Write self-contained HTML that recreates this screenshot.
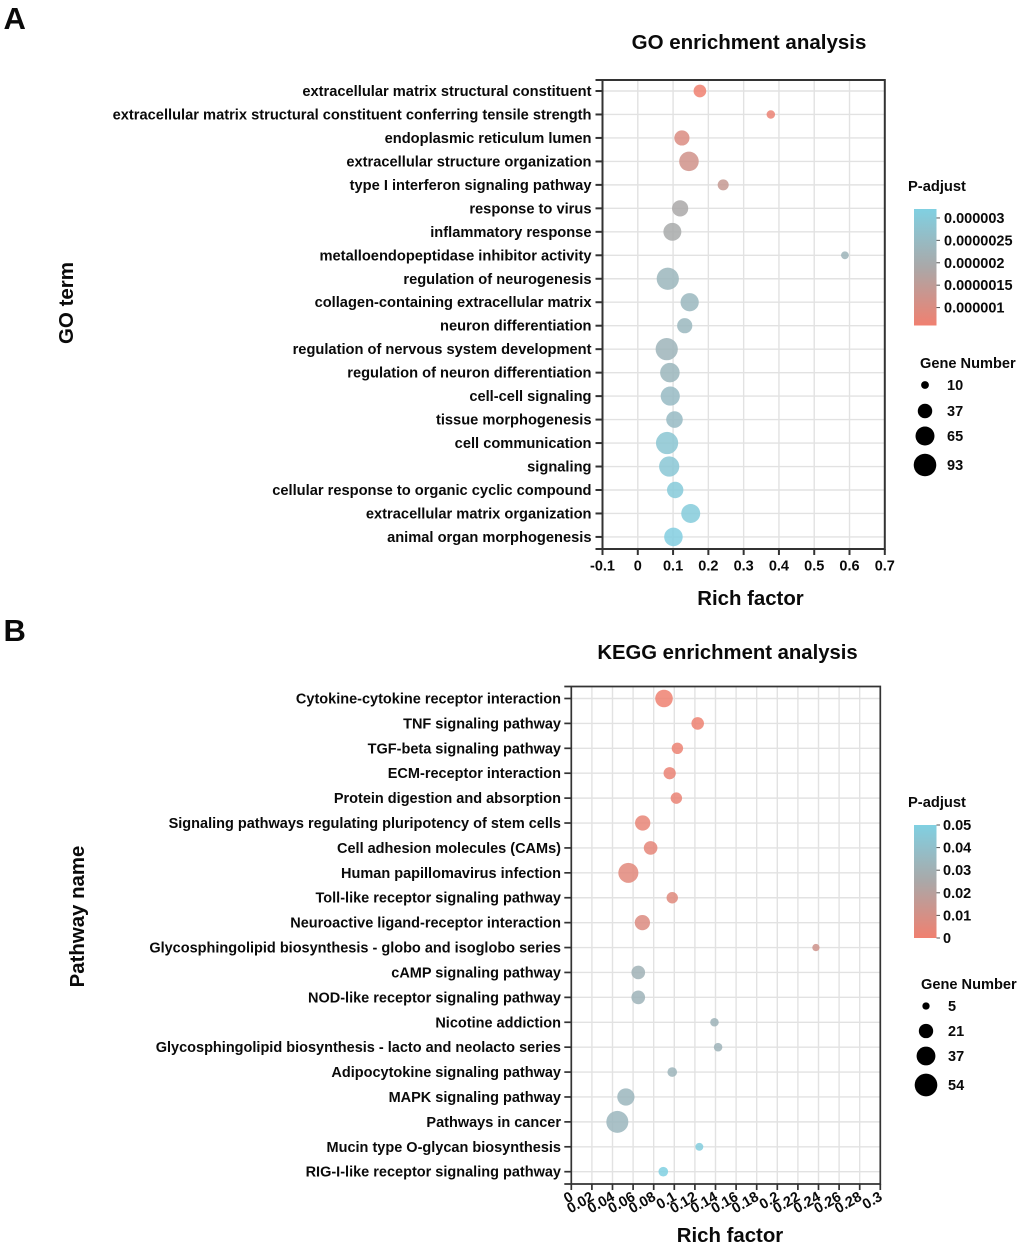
<!DOCTYPE html>
<html lang="en">
<head>
<meta charset="utf-8">
<title>GO and KEGG enrichment analysis</title>
<style>
html,body{margin:0;padding:0;background:#fff;width:1020px;height:1247px;overflow:hidden}
svg{display:block}
text{font-family:"Liberation Sans",Arial,sans-serif;font-weight:bold;fill:#0a0a0a}
</style>
</head>
<body>
<svg id="figure" xmlns="http://www.w3.org/2000/svg" width="1020" height="1247" viewBox="0 0 1020 1247">
  <defs>
    <linearGradient id="barGrad" x1="0" y1="1" x2="0" y2="0">
      <stop offset="0" stop-color="#f08070"/>
      <stop offset="0.5" stop-color="#aaa8a8"/>
      <stop offset="1" stop-color="#80d0e2"/>
    </linearGradient>
  </defs>
  <text x="3.5" y="29" font-size="31">A</text>
  <text x="3.5" y="641" font-size="31">B</text>
  <text x="749" y="49" font-size="20.5" text-anchor="middle">GO enrichment analysis</text>
  <text x="727.5" y="659" font-size="20.3" text-anchor="middle">KEGG enrichment analysis</text>
  <text x="750.5" y="605" font-size="20.4" text-anchor="middle">Rich factor</text>
  <text x="730" y="1242" font-size="20.4" text-anchor="middle">Rich factor</text>
  <text font-size="20.5" text-anchor="middle" transform="translate(73 303) rotate(-90)">GO term</text>
  <text font-size="20.4" text-anchor="middle" transform="translate(84 916.5) rotate(-90)">Pathway name</text>
  <text x="908" y="191" font-size="14.7">P-adjust</text>
  <text x="908" y="807" font-size="14.7">P-adjust</text>
  <text x="920" y="368" font-size="14.6">Gene Number</text>
  <text x="921" y="989" font-size="14.6">Gene Number</text>
  <g id="chartA"></g>
  <g id="chartB"></g>
</svg>
<script>
// ---- GO chart data ----
const goTerms = ["extracellular matrix structural constituent","extracellular matrix structural constituent conferring tensile strength","endoplasmic reticulum lumen","extracellular structure organization","type I interferon signaling pathway","response to virus","inflammatory response","metalloendopeptidase inhibitor activity","regulation of neurogenesis","collagen-containing extracellular matrix","neuron differentiation","regulation of nervous system development","regulation of neuron differentiation","cell-cell signaling","tissue morphogenesis","cell communication","signaling","cellular response to organic cyclic compound","extracellular matrix organization","animal organ morphogenesis"];
const goRich = [0.176,0.377,0.125,0.145,0.242,0.12,0.098,0.587,0.085,0.147,0.133,0.082,0.091,0.092,0.104,0.083,0.089,0.106,0.15,0.101];
const goGenes = [28,12,41,69,21,47,58,10,90,60,41,90,69,66,49,90,74,48,65,62];
const goPadj = [0.0000006,0.0000007,0.000001,0.0000012,0.0000014,0.0000019,0.00000195,0.0000023,0.00000235,0.0000024,0.0000024,0.0000023,0.00000235,0.0000025,0.0000025,0.00000285,0.0000029,0.000003,0.00000305,0.00000315];
const goXTicks = [-0.1,0,0.1,0.2,0.3,0.4,0.5,0.6,0.7];
const goColorTicks = [0.000003,0.0000025,0.000002,0.0000015,0.000001];
const goColorTickLabels = ["0.000003","0.0000025","0.000002","0.0000015","0.000001"];
const goSizeLegend = [10,37,65,93];

// ---- KEGG chart data ----
const keggTerms = ["Cytokine-cytokine receptor interaction","TNF signaling pathway","TGF-beta signaling pathway","ECM-receptor interaction","Protein digestion and absorption","Signaling pathways regulating pluripotency of stem cells","Cell adhesion molecules (CAMs)","Human papillomavirus infection","Toll-like receptor signaling pathway","Neuroactive ligand-receptor interaction","Glycosphingolipid biosynthesis - globo and isoglobo series","cAMP signaling pathway","NOD-like receptor signaling pathway","Nicotine addiction","Glycosphingolipid biosynthesis - lacto and neolacto series","Adipocytokine signaling pathway","MAPK signaling pathway","Pathways in cancer","Mucin type O-glycan biosynthesis","RIG-I-like receptor signaling pathway"];
const keggRich = [0.09,0.1227,0.103,0.0955,0.102,0.0693,0.077,0.0554,0.098,0.069,0.2375,0.065,0.065,0.139,0.1425,0.098,0.053,0.0447,0.1243,0.0893];
const keggGenes = [32,16,13,15,13,24,19,42,13,24,5,19,19,7,7,9,31,51,6,9];
const keggPadj = [0.0005,0.001,0.0015,0.002,0.002,0.003,0.004,0.005,0.006,0.007,0.012,0.031,0.032,0.032,0.032,0.033,0.034,0.034,0.048,0.05];
const keggXTicks = [0,0.02,0.04,0.06,0.08,0.1,0.12,0.14,0.16,0.18,0.2,0.22,0.24,0.26,0.28,0.3];
const keggColorTicks = [0.05,0.04,0.03,0.02,0.01,0];
const keggSizeLegend = [5,21,37,54];

const NS = "http://www.w3.org/2000/svg";
const GRID = "#e2e2e2", AXIS = "#333";
const LOW = [240,128,112], MID = [170,168,168], HIGH = [128,208,226];

function make(tag, attrs, parent, txt){
  const el = document.createElementNS(NS, tag);
  for (const k in attrs) el.setAttribute(k, attrs[k]);
  if (txt !== undefined) el.textContent = txt;
  parent.appendChild(el);
  return el;
}
function colorAt(t){
  t = Math.max(0, Math.min(1, t));
  const a = t < 0.5 ? LOW : MID, b = t < 0.5 ? MID : HIGH, f = t < 0.5 ? t * 2 : (t - 0.5) * 2;
  return "rgb(" + a.map((v, i) => Math.round(v + (b[i] - v) * f)).join(",") + ")";
}

function drawChart(root, o){
  const xScale = v => o.x0 + (v - o.xMin) / (o.xMax - o.xMin) * (o.right - o.x0);
  const yScale = i => o.yFirst + i * o.yStep;
  const colorT = p => (p - o.cMin) / (o.cMax - o.cMin);
  const colorY = p => o.barBottom - (p - o.cMin) / (o.cMax - o.cMin) * (o.barBottom - o.barTop);
  const radius = n => o.rk * Math.sqrt(n) + 0.3;

  // vertical gridlines
  o.xTicks.forEach(t => {
    const l = make("line", {x1:xScale(t), x2:xScale(t), y1:o.top, y2:o.bottom, stroke:GRID, "stroke-width":1.4}, root);
    
    
  });
  // horizontal gridlines, ticks and term labels
  o.terms.forEach((term, i) => {
    const y = yScale(i);
    const g = make("line", {x1:o.x0, x2:o.right, y1:y, y2:y, stroke:GRID, "stroke-width":1.4}, root);
    
    
    const t = make("line", {x1:o.x0 - 7, x2:o.x0, y1:y, y2:y, stroke:AXIS, "stroke-width":o.axisWidth}, root);
    
    
    const lb = make("text", {x:o.x0 - o.labelGap, y:y + 5, "font-size":o.labelSize, "text-anchor":"end"}, root, term);
    
    
  });
  // frame
  const frame = make("path", {d:"M"+(o.x0-7)+" "+o.top+"H"+o.right+"V"+o.bottom+"H"+(o.x0-7)+"M"+o.x0+" "+o.top+"V"+o.bottom, fill:"none", stroke:AXIS, "stroke-width":o.axisWidth}, root);
  
  
  // x ticks
  o.xTicks.forEach(t => {
    const x = xScale(t);
    const tk = make("line", {x1:x, x2:x, y1:o.bottom, y2:o.bottom + 6, stroke:AXIS, "stroke-width":o.axisWidth}, root);
    
    
    const attrs = o.rotate
      ? {"font-size":o.tickSize, "text-anchor":"end", transform:"translate("+(x+3)+" "+(o.bottom+15.5)+") rotate(-30)"}
      : {x:x, y:o.bottom + 21.5, "font-size":o.tickSize, "text-anchor":"middle"};
    const lb = make("text", attrs, root, String(t));
    
    
  });
  // bubbles
  o.terms.forEach((term, i) => {
    const c = make("circle", {cx:xScale(o.rich[i]), cy:yScale(i), r:radius(o.genes[i]), fill:colorAt(colorT(o.padj[i])), "fill-opacity":0.85}, root);
    
    
    make("title", {}, c, term);
  });
  // colour legend
  const bar = make("rect", {x:914, y:o.barTop, width:22.5, height:o.barBottom - o.barTop, fill:"url(#barGrad)"}, root);
  
  
  o.colorTicks.forEach((p, i) => {
    const y = colorY(p);
    const tk = make("line", {x1:936.5, x2:940, y1:y, y2:y, stroke:"#555", "stroke-width":1}, root);
    
    
    const lb = make("text", {x:o.colorLabelX, y:y + 5, "font-size":o.colorLabelSize}, root, o.colorLabels ? o.colorLabels[i] : String(p));
    
    
  });
  // size legend
  o.sizeLegend.forEach((n, i) => {
    const y = o.sizeY[i];
    const c = make("circle", {cx:o.sizeX, cy:y, r:radius(n), fill:"#000"}, root);
    
    
    const lb = make("text", {x:o.sizeX + 22, y:y + 5, "font-size":14.5}, root, String(n));
    
    
  });
}

drawChart(document.getElementById("chartA"), {
  terms:goTerms, rich:goRich, genes:goGenes, padj:goPadj, xTicks:goXTicks,
  colorTicks:goColorTicks, colorLabels:goColorTickLabels, sizeLegend:goSizeLegend,
  x0:602.5, right:884.8, top:80, bottom:549, xMin:-0.1, xMax:0.7,
  yFirst:91, yStep:23.47, rk:1.14, labelSize:14.67, labelGap:11, tickSize:14.5, rotate:false, axisWidth:2,
  cMin:0.0000006, cMax:0.0000032, barTop:209, barBottom:325.5,
  colorLabelX:944, colorLabelSize:14.5, sizeX:925, sizeY:[385,411,436,465]
});
drawChart(document.getElementById("chartB"), {
  terms:keggTerms, rich:keggRich, genes:keggGenes, padj:keggPadj, xTicks:keggXTicks,
  colorTicks:keggColorTicks, colorLabels:null, sizeLegend:keggSizeLegend,
  x0:571.3, right:880.3, top:686.5, bottom:1184, xMin:0, xMax:0.3,
  yFirst:698.5, yStep:24.905, rk:1.5, labelSize:14.5, labelGap:10.3, tickSize:14.5, rotate:true, axisWidth:1.7,
  cMin:0, cMax:0.05, barTop:825, barBottom:938,
  colorLabelX:943, colorLabelSize:14.5, sizeX:926, sizeY:[1006,1031,1056,1085]
});
</script>
</body>
</html>
